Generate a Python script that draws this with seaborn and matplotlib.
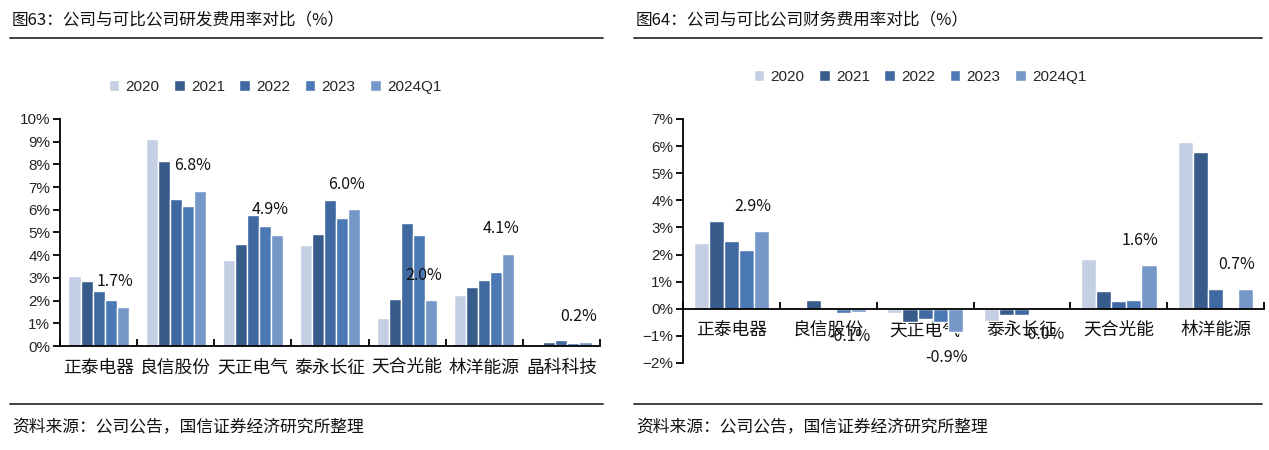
import numpy as np
import pandas as pd
import matplotlib
matplotlib.use("Agg")
import matplotlib.pyplot as plt
import seaborn as sns
from matplotlib.lines import Line2D
from matplotlib.ticker import FuncFormatter

sns.set_theme(style="white")
plt.rcParams['font.family'] = ['Noto Sans CJK SC', 'DejaVu Sans']
plt.rcParams['axes.unicode_minus'] = True

years = ['2020', '2021', '2022', '2023', '2024Q1']
colors = ['#C5CFE3', '#375B8B', '#3F69A0', '#4A79B5', '#7698C9']

# Chart 1: R&D expense ratio (%)
cats1 = ['正泰电器', '良信股份', '天正电气', '泰永长征', '天合光能', '林洋能源', '晶科科技']
rd_2020 = [3.09, 9.12, 3.79, 4.44, 1.24, 2.26, 0.07]
rd_2021 = [2.88, 8.13, 4.50, 4.94, 2.07, 2.62, 0.16]
rd_2022 = [2.44, 6.49, 5.75, 6.44, 5.43, 2.90, 0.26]
rd_2023 = [2.03, 6.18, 5.29, 5.66, 4.88, 3.24, 0.13]
rd_2024q1 = [1.74, 6.84, 4.91, 6.03, 2.01, 4.06, 0.18]

# Chart 2: financial expense ratio (%)
cats2 = ['正泰电器', '良信股份', '天正电气', '泰永长征', '天合光能', '林洋能源']
fin_2020 = [2.44, -0.01, -0.15, -0.45, 1.82, 6.15]
fin_2021 = [3.25, 0.32, -0.48, -0.22, 0.64, 5.78]
fin_2022 = [2.49, -0.03, -0.38, -0.22, 0.28, 0.72]
fin_2023 = [2.15, -0.15, -0.48, -0.01, 0.32, -0.03]
fin_2024q1 = [2.86, -0.11, -0.86, -0.02, 1.60, 0.72]

title1 = '图63：公司与可比公司研发费用率对比（%）'
title2 = '图64：公司与可比公司财务费用率对比（%）'
source = '资料来源：公司公告，国信证券经济研究所整理'


def make_df(cats, series):
    rows = []
    for y, vals in zip(years, series):
        for c, v in zip(cats, vals):
            rows.append({'公司': c, '年份': y, '值': v})
    return pd.DataFrame(rows)


df1 = make_df(cats1, [rd_2020, rd_2021, rd_2022, rd_2023, rd_2024q1])
df2 = make_df(cats2, [fin_2020, fin_2021, fin_2022, fin_2023, fin_2024q1])

W, H = 1269, 450
fig = plt.figure(figsize=(W / 100, H / 100), dpi=100)


def fx(px):
    return px / W


def fy(py):
    return 1 - py / H


ax1 = fig.add_axes([fx(60), fy(346), fx(600 - 60), (346 - 119) / H])
ax2 = fig.add_axes([fx(683), fy(363), fx(1264 - 683), (363 - 119) / H])

tick_font = ['Liberation Sans Narrow', 'Liberation Sans', 'DejaVu Sans']
pct = FuncFormatter(lambda v, p: f"{v:.0f}%".replace('-', '\u2212'))


def draw(ax, df, cats, lastvals, ylim, yticks, zero_spine, xpad):
    sns.barplot(data=df, x='公司', y='值', hue='年份', hue_order=years,
                order=cats, palette=colors, width=0.78, gap=0,
                saturation=1, errorbar=None, ax=ax)
    ax.set_xlim(-0.5, len(cats) - 0.5)
    ax.set_ylim(*ylim)
    ax.set_yticks(yticks)
    ax.yaxis.set_major_formatter(pct)
    ax.set_xlabel('')
    ax.set_ylabel('')
    for s in ['top', 'right']:
        ax.spines[s].set_visible(False)
    for s in ['left', 'bottom']:
        ax.spines[s].set_color('black')
        ax.spines[s].set_linewidth(1.3)
    if zero_spine:
        ax.spines['bottom'].set_position(('data', 0))
    ax.set_xticks(np.arange(-0.5, len(cats), 1), minor=True)
    ax.tick_params(axis='x', which='major', length=0, pad=xpad, labelsize=12.8,
                   labelcolor='#111111')
    ax.tick_params(axis='x', which='minor', direction='in', length=5,
                   width=1.3, color='black', bottom=True)
    ax.tick_params(axis='y', which='major', direction='out', length=5,
                   width=1.3, color='black', left=True, labelsize=11, pad=2)
    for lab in ax.get_yticklabels():
        lab.set_family(tick_font)
    # data labels on the 2024Q1 bars
    cont = ax.containers[-1]
    for bar, v in zip(cont, lastvals):
        w = bar.get_width()
        xc = bar.get_x() + w / 2 - 0.6 * w
        off = 18 if v >= 0 else -18
        ax.annotate(f"{v:.1f}%", xy=(xc, v), xytext=(0, off),
                    textcoords='offset points', ha='center', va='center',
                    fontsize=11.5, color='#111111')
    h, l = ax.get_legend_handles_labels()
    ax.get_legend().remove()
    return h, l


h1, l1 = draw(ax1, df1, cats1, rd_2024q1, (0, 10), np.arange(0, 11, 1), False, 9)
h2, l2 = draw(ax2, df2, cats2, fin_2024q1, (-2, 7), np.arange(-2, 8, 1), True, 9)

for h, l, cx, cy in [(h1, l1, 275, 87), (h2, l2, 920, 77)]:
    leg = fig.legend(h, l, loc='center', bbox_to_anchor=(fx(cx), fy(cy)),
                     bbox_transform=fig.transFigure, ncol=5, frameon=False,
                     handlelength=0.7, handleheight=0.7, handletextpad=0.4,
                     columnspacing=0.95, prop={'family': tick_font, 'size': 11})

# titles, rules and source notes
for x0, x1, title in [(10, 603, title1), (634, 1262, title2)]:
    fig.text(fx(x0 + 2), fy(20), title, fontsize=12, va='center', ha='left',
             color='#111111')
    fig.add_artist(Line2D([fx(x0), fx(x1)], [fy(38), fy(38)],
                          transform=fig.transFigure, color='#333333', lw=1.3))
    fig.add_artist(Line2D([fx(x0), fx(x1)], [fy(404), fy(404)],
                          transform=fig.transFigure, color='#333333', lw=1.3))
    fig.text(fx(x0 + 2), fy(428), source, fontsize=12.1, va='center',
             ha='left', color='#111111')

fig.savefig('out.png', dpi=100)
